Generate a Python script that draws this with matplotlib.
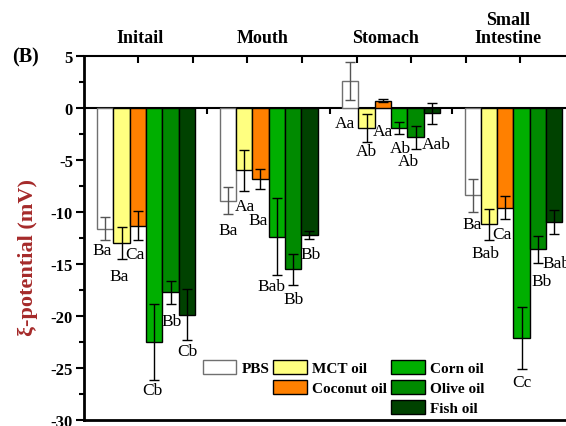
import numpy as np
import matplotlib
matplotlib.use("Agg")
from matplotlib import pyplot as plt
from matplotlib.patches import Patch
from matplotlib.transforms import blended_transform_factory

plt.rcParams['font.family'] = ['Liberation Serif', 'DejaVu Serif']
plt.rcParams['axes.unicode_minus'] = False

# Data
groups = ['Initail', 'Mouth', 'Stomach', 'Small\nIntestine']
series = ['PBS', 'MCT oil', 'Coconut oil', 'Corn oil', 'Olive oil', 'Fish oil']
# one list per series, one value per group
pbs = [-11.6, -8.9, 2.6, -8.4]
mct = [-13.0, -6.0, -1.9, -11.2]
coconut = [-11.3, -6.8, 0.7, -9.6]
corn = [-22.5, -12.4, -1.9, -22.1]
olive = [-17.7, -15.5, -2.8, -13.6]
fish = [-19.9, -12.2, -0.5, -11.0]

pbs_err = [1.1, 1.3, 1.8, 1.6]
mct_err = [1.55, 2.0, 1.35, 1.45]
coconut_err = [1.4, 0.95, 0.15, 1.1]
corn_err = [3.65, 3.7, 0.6, 3.0]
olive_err = [1.1, 1.5, 1.1, 1.3]
fish_err = [2.45, 0.35, 1.0, 1.15]

pbs_lab = ['Ba', 'Ba', 'Aa', 'Ba']
mct_lab = ['Ba', 'Aa', 'Ab', 'Bab']
coconut_lab = ['Ca', 'Ba', 'Aa', 'Ca']
corn_lab = ['Cb', 'Bab', 'Ab', 'Cc']
olive_lab = ['Bb', 'Bb', 'Ab', 'Bb']
fish_lab = ['Cb', 'Bb', 'Aab', 'Bab']

values = [pbs, mct, coconut, corn, olive, fish]
errors = [pbs_err, mct_err, coconut_err, corn_err, olive_err, fish_err]
letters = [pbs_lab, mct_lab, coconut_lab, corn_lab, olive_lab, fish_lab]

# styles
colors = ['#FFFFFF', '#FFFF80', '#FF8000', '#00AF00', '#008A00', '#004200']
edges = ['#707070', 'black', 'black', 'black', 'black', 'black']
ecols = ['#555555', 'black', 'black', 'black', 'black', 'black']

# label placement (x shift in bar widths, y in mV), per series x group
lab_dx = [[-0.2, 0.04, -0.32, -0.06],
          [-0.15, 0.06, 0.01, -0.24],
          [-0.17, -0.12, 0.03, -0.22],
          [-0.13, -0.3, 0.05, 0.0],
          [0.09, 0.02, -0.44, 0.23],
          [0.01, 0.1, 0.3, 0.1]]
lab_y = [[-13.7, -11.7, -1.4, -11.2],
         [-16.2, -9.4, -4.15, -13.9],
         [-14.0, -10.8, -2.2, -12.1],
         [-27.1, -17.1, -3.85, -26.3],
         [-20.5, -18.4, -5.1, -16.65],
         [-23.4, -14.0, -3.5, -14.9]]

group_pos = np.arange(len(groups)) * 7.5
width = 1.0

fig = plt.figure(figsize=(5.66, 4.27), dpi=100)
ax = fig.add_axes([84/566, 6/427, 494/566, 364/427])

for i, s in enumerate(series):
    xs = group_pos + (i - 2.5) * width
    ax.bar(xs, values[i], width=width, color=colors[i], edgecolor=edges[i],
           linewidth=1.0, label=s, zorder=2)
    ax.errorbar(xs, values[i], yerr=errors[i], fmt='none', ecolor=ecols[i],
                elinewidth=1.0, capsize=3.5, capthick=1.0, zorder=3)
    for j in range(len(groups)):
        ax.text(xs[j] + lab_dx[i][j], lab_y[i][j], letters[i][j],
                ha='center', va='center', fontsize=12.5, zorder=4)

ax.set_xlim(-3.8, 26.45)
ax.set_ylim(-30, 5)

# zero line with small ticks between groups
ax.axhline(0, color='black', lw=1.5, zorder=1)
mids = (group_pos[:-1] + group_pos[1:]) / 2
ax.plot(mids, np.zeros(len(mids)), ls='none', marker=3, ms=4, mew=1.5,
        color='black', zorder=1)

ax.set_yticks(np.arange(-30, 6, 5))
ax.set_yticks(np.arange(-30, 5, 2.5), minor=True)
ax.tick_params(axis='y', which='major', direction='out', length=6, width=1.5,
               labelsize=12, pad=2)
ax.tick_params(axis='y', which='minor', direction='out', length=3.5, width=1.5)
for t in ax.get_yticklabels():
    t.set_fontweight('bold')

ax.set_xticks(np.arange(-0.47, 26, 3.34))
ax.tick_params(axis='x', which='major', direction='in', length=5, width=1.5,
               bottom=False, top=True, labelbottom=False, labeltop=False)

for side in ['left', 'bottom']:
    ax.spines[side].set_linewidth(2.0)
ax.spines['top'].set_linewidth(1.5)
ax.spines['right'].set_visible(False)

ax.set_ylabel('ξ-potential (mV)', fontsize=16, fontweight='bold',
              color='#A52A2A')
ax.yaxis.set_label_coords(-0.094, 0.45)

trans = blended_transform_factory(ax.transData, ax.transAxes)
for g, name in zip(group_pos, groups):
    ax.text(g - 0.35, 1.0385, name, transform=trans, ha='center', va='baseline',
            fontsize=13, fontweight='bold', linespacing=1.05)

fig.text(12/566, 1 - 57/427, '(B)', ha='left', va='center',
         fontsize=14.5, fontweight='bold')

# legend: 3 columns, filled with blanks
blank = Patch(visible=False)
h = {s: Patch(facecolor=c, edgecolor=e, linewidth=1.0)
     for s, c, e in zip(series, colors, edges)}
handles = [h['PBS'], blank, blank,
           h['MCT oil'], h['Coconut oil'], blank,
           h['Corn oil'], h['Olive oil'], h['Fish oil']]
labels = ['PBS', '', '', 'MCT oil', 'Coconut oil', '', 'Corn oil', 'Olive oil', 'Fish oil']
leg = ax.legend(handles, labels, ncol=3, frameon=False,
                prop={'weight': 'bold', 'size': 11},
                handlelength=2.2, handleheight=1.0, handletextpad=0.35,
                columnspacing=0.25, labelspacing=0.33,
                loc='upper left', bbox_to_anchor=(0.24, 0.165),
                borderaxespad=0, borderpad=0)

fig.savefig('out.png', dpi=100)
